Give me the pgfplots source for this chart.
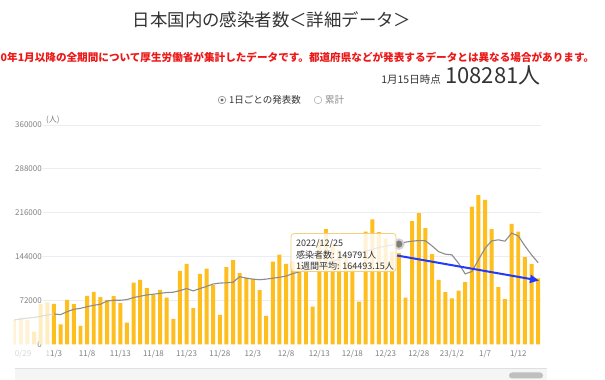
\documentclass[border=0pt]{standalone}
\usepackage{fontspec}
\setmainfont{Noto Sans CJK JP}
\usepackage{pgfplots}
\usepackage{pgfplotstable}
\pgfplotsset{compat=1.18}
\usetikzlibrary{arrows.meta}
\definecolor{barc}{RGB}{253,190,30}
\definecolor{linec}{RGB}{140,140,140}
\definecolor{gridc}{RGB}{234,237,243}
\definecolor{tickc}{RGB}{128,128,128}
\definecolor{titlec}{RGB}{51,51,51}
\definecolor{redc}{RGB}{236,24,24}
\definecolor{bluec}{RGB}{36,58,250}
\definecolor{tipc}{RGB}{243,208,125}

\pgfplotstableread{
x y
-6 40000
-5 43800
-4 40000
}\fadeA
\pgfplotstableread{
x y
-3 20800
-2 65800
-1 69000
}\fadeB
\pgfplotstableread{
x y
0 66300
1 32900
2 72900
3 65800
4 30100
5 79500
6 86000
7 77300
8 72900
9 78900
10 67400
11 35600
12 101400
13 105800
14 92100
15 81100
16 89300
17 76700
18 41600
19 120600
20 132100
21 59200
22 115600
23 124400
24 97000
25 48200
26 126600
27 138100
28 116700
29 109600
30 107400
31 88800
32 46600
33 135900
34 147400
35 132000
36 136000
37 133000
38 128000
39 62000
40 170000
41 189000
42 165000
43 155000
44 143000
45 131000
46 70000
47 185000
48 205000
49 184000
50 174000
51 152000
52 149791
53 76600
54 202000
55 215500
56 190700
57 148200
58 105700
59 85700
60 75300
61 88000
62 102000
63 226000
64 245000
65 237000
66 189000
67 93700
68 74000
69 197800
70 185000
71 143000
72 131500
73 108281
}\daily
\pgfplotstableread{
x y
-6 40000
-5 41500
-4 43000
-3 44000
-2 46000
-1 48000
0 49800
}\avgfade
\pgfplotstableread{
x y
0 49800
1 48700
2 53600
3 57500
4 59000
5 61800
6 64000
7 65800
8 71000
9 72300
10 72300
11 73400
12 76700
13 78900
14 81100
15 82200
16 83800
17 84900
18 85500
19 88200
20 91500
21 87700
22 91500
23 95000
24 99000
25 100500
26 101000
27 101900
28 111000
29 108500
30 107000
31 106000
32 107000
33 108500
34 110000
35 112000
36 116000
37 119000
38 122000
39 125000
40 128000
41 132000
42 136000
43 140000
44 143000
45 146000
46 150000
47 153000
48 156000
49 159000
50 161000
51 163000
52 164493
53 167700
54 169300
55 170300
56 170000
57 161600
58 152000
59 148000
60 146800
61 133000
62 115600
63 119400
64 138600
65 157800
66 169800
67 171500
68 169300
69 182500
70 178000
71 161600
72 146800
73 134000
}\avg
\pgfplotstableread{
x y
52 164493
}\hl

\begin{document}
\begin{tikzpicture}[x=1pt,y=1pt]
\useasboundingbox (0,0) rectangle (605,380);
\fill[white] (0,0) rectangle (605,380);

\begin{axis}[
  at={(13.5pt,35.7pt)}, anchor=south west,
  scale only axis, width=527.3pt, height=219.3pt,
  xmin=-6.1, xmax=73.4, ymin=0, ymax=360000,
  axis line style={draw=none},
  major tick length=0pt,
  ytick={0,72000,144000,216000,288000,360000},
  yticklabels={0,72000,144000,216000,288000,360000},
  xtick={-5,0,5,10,15,20,25,30,35,40,45,50,55,60,65,70},
  xticklabels={{\textcolor{white}{1}\textcolor{black!15}{0/29}},{\textcolor{black!20}{1}1/3},11/8,11/13,11/18,11/23,11/28,12/3,12/8,12/13,12/18,12/23,12/28,23/1/2,1/7,1/12},
  tick label style={font=\fontsize{8}{9}\selectfont, text=tickc},
  yticklabel style={anchor=east, inner sep=0pt, xshift=28.5pt},
  xticklabel style={anchor=north, inner sep=0pt, yshift=-6pt},
  /pgf/number format/assume math mode=true,
  scaled y ticks=false,
  clip=true,
]
\draw[gridc, line width=0.8pt] (axis cs:-1.66,72000) -- (axis cs:73.4,72000);
\draw[gridc, line width=0.8pt] (axis cs:-1.66,144000) -- (axis cs:73.4,144000);
\draw[gridc, line width=0.8pt] (axis cs:-1.66,216000) -- (axis cs:73.4,216000);
\draw[gridc, line width=0.8pt] (axis cs:-1.66,288000) -- (axis cs:73.4,288000);
\draw[gridc, line width=0.8pt] (axis cs:-1.66,359500) -- (axis cs:73.4,359500);
\addplot[ybar, bar width=0.6, fill=barc!18!white, draw=none] table[x=x,y=y] {\fadeA};
\addplot[ybar, bar width=0.6, fill=barc!28!white, draw=none] table[x=x,y=y] {\fadeB};
\addplot[ybar, bar width=0.6, fill=barc, draw=none] table[x=x,y=y] {\daily};
\addplot[color=linec!30, line width=1.1pt, no markers] table[x=x,y=y] {\avgfade};
\addplot[color=linec, line width=1.1pt, no markers] table[x=x,y=y] {\avg};
\addplot[only marks, mark=*, mark size=5.5pt, color=black!18, mark options={draw=none}] table[x=x,y=y] {\hl};
\addplot[only marks, mark=*, mark size=3.3pt, color=linec!90!black, mark options={draw=none}] table[x=x,y=y] {\hl};
\end{axis}

% titles
\node[font=\fontsize{17.4}{20}\selectfont, text=titlec, inner sep=0] at (272,360) {日本国内の感染者数＜詳細データ＞};
\node[anchor=west, font=\bfseries\fontsize{10.6}{12}\selectfont, text=redc, inner sep=0] at (0.5,323) {0年1月以降の全期間について厚生労働省が集計したデータです。都道府県などが発表するデータとは異なる場合があります。};
\node[anchor=base east, font=\fontsize{10.5}{12}\selectfont, text=titlec, inner sep=0] at (441,296) {1月15日時点};
\node[anchor=base west, font=\fontsize{22}{24}\selectfont, text=titlec, inner sep=0] at (445,296) {108281人};

% radio legend
\draw[black!45, line width=0.6pt] (222,280) circle (3.8);
\fill[black!60] (222,280) circle (1.7);
\node[anchor=west, font=\fontsize{9.5}{11}\selectfont, text=titlec, inner sep=0] at (229,280) {1日ごとの発表数};
\draw[black!30, line width=0.6pt] (318,280) circle (3.8);
\node[anchor=west, font=\fontsize{9.5}{11}\selectfont, text=black!45, inner sep=0] at (325,280) {累計};

% unit
\node[anchor=west, font=\fontsize{8}{9}\selectfont, text=tickc, inner sep=0] at (46,260) {(人)};

% tooltip
\fill[white, fill opacity=0.82, rounded corners=3pt] (291,108.5) rectangle (396,146.5);
\draw[tipc, line width=0.8pt, rounded corners=3pt] (291,108.5) rectangle (396,146.5);
\node[anchor=west, font=\fontsize{9}{10}\selectfont, text=titlec, inner sep=0] at (296,136.5) {2022/12/25};
\node[anchor=west, font=\fontsize{9}{10}\selectfont, text=titlec, inner sep=0] at (296,124.5) {感染者数: 149791人};
\node[anchor=west, font=\fontsize{9}{10}\selectfont, text=titlec, inner sep=0] at (296,113.5) {1週間平均: 164493.15人};

% blue arrow
\draw[bluec, line width=2pt, -{Triangle[length=9pt,width=8pt]}] (397,124.5) -- (539,99.5);

% scrollbar
\fill[black!4] (15,0) rectangle (547,12);
\draw[black!12, line width=0.6pt] (15,12) -- (547,12);
\fill[black!25, rounded corners=3pt] (509,1.5) rectangle (543,7.5);
\end{tikzpicture}
\end{document}
